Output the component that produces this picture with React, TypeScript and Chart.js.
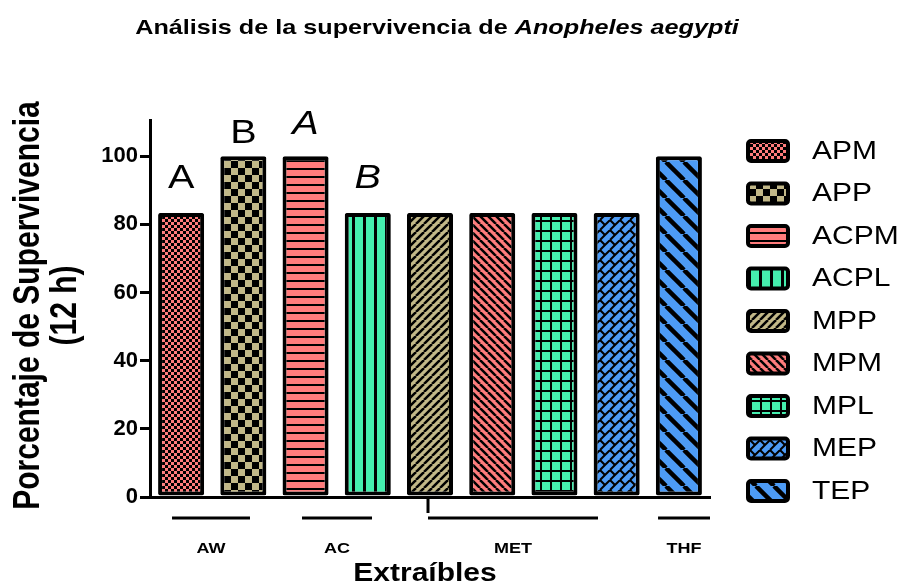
import React, { useEffect, useRef } from "react";
import { Chart, registerables } from "chart.js";

Chart.register(...registerables);

// ---------------- data ----------------
const categories = ["APM", "APP", "ACPM", "ACPL", "MPP", "MPM", "MPL", "MEP", "TEP"];
const survival = [83.33, 100, 100, 83.33, 83.33, 83.33, 83.33, 83.33, 100];
const yTicks = [0, 20, 40, 60, 80, 100];
const barColors = ["#FF7C7C", "#C2B888", "#FF7C7C", "#45EEAE", "#C2B888", "#FF7C7C", "#45EEAE", "#4D9BF5", "#4D9BF5"];
const barPatterns = ["checkSmall", "checkLarge", "hlines", "vlines", "diagUp", "diagDown", "grid", "brick", "wideDiag"];
const sigLetters = ["A", "B", "A", "B", "", "", "", "", ""];
const sigItalic = [false, false, true, true, false, false, false, false, false];
const groupNames = ["AW", "AC", "MET", "THF"];
const groupStart = [-0.146, 1.943, 3.968, 7.665];
const groupEnd = [1.107, 3.068, 6.7, 8.5];

const titleMain = "Análisis de la supervivencia de ";
const titleItalic = "Anopheles aegypti";
const yTitle = ["Porcentaje de Supervivencia", "(12 h)"];
const xTitle = "Extraíbles";

// ---------------- styling ----------------
const FAMILY = "'Liberation Sans', Arial, Helvetica, sans-serif";
const STRETCH = 1.2;
const letterGap = [25, 13, 22, 25, 25, 25, 25, 25, 25];

function drawDiag(g: CanvasRenderingContext2D, w: number, h: number, dir: number, lw: number) {
  g.lineWidth = lw;
  g.strokeStyle = "#000";
  for (const off of [-w, 0, w]) {
    g.beginPath();
    if (dir === 1) {
      g.moveTo(off, h);
      g.lineTo(off + w, 0);
    } else {
      g.moveTo(off, 0);
      g.lineTo(off + w, h);
    }
    g.stroke();
  }
}

function makePattern(kind: string, color: string): CanvasPattern {
  const sizes: Record<string, [number, number]> = {
    checkSmall: [6, 6],
    checkLarge: [14, 14],
    hlines: [8, 8],
    vlines: [11, 11],
    diagUp: [8, 8],
    diagDown: [8, 8],
    grid: [10, 10],
    brick: [10, 10],
    wideDiag: [18, 18],
  };
  const [w, h] = sizes[kind];
  const c = document.createElement("canvas");
  c.width = w;
  c.height = h;
  const g = c.getContext("2d") as CanvasRenderingContext2D;
  g.fillStyle = color;
  g.fillRect(0, 0, w, h);
  g.fillStyle = "#000";
  switch (kind) {
    case "checkSmall":
      g.fillRect(0, 0, 3, 3);
      g.fillRect(3, 3, 3, 3);
      break;
    case "checkLarge":
      g.fillRect(0, 0, 7, 7);
      g.fillRect(7, 7, 7, 7);
      break;
    case "hlines":
      g.fillRect(0, 0, w, 2);
      break;
    case "vlines":
      g.fillRect(0, 0, 3, h);
      break;
    case "grid":
      g.fillRect(0, 0, w, 2);
      g.fillRect(0, 0, 2, h);
      break;
    case "diagUp":
      drawDiag(g, w, h, 1, 2.5);
      break;
    case "diagDown":
      drawDiag(g, w, h, -1, 2.5);
      break;
    case "wideDiag":
      drawDiag(g, w, h, -1, 4.5);
      break;
    case "brick":
      drawDiag(g, w, h, 1, 2);
      g.lineWidth = 2;
      g.strokeStyle = "#000";
      for (const ox of [-w, 0, w]) {
        for (const oy of [-h, 0, h]) {
          g.beginPath();
          g.moveTo(ox, oy);
          g.lineTo(ox + w / 2, oy + h / 2);
          g.stroke();
        }
      }
      break;
  }
  return g.createPattern(c, "repeat") as CanvasPattern;
}

function stretchText(
  ctx: CanvasRenderingContext2D,
  text: string,
  x: number,
  y: number,
  font: string,
  align: CanvasTextAlign,
  baseline: CanvasTextBaseline = "alphabetic"
) {
  ctx.save();
  ctx.font = font;
  ctx.fillStyle = "#000";
  ctx.textAlign = align;
  ctx.textBaseline = baseline;
  ctx.translate(x, y);
  ctx.scale(STRETCH, 1);
  ctx.fillText(text, 0, 0);
  ctx.restore();
}

function makeAnnotationPlugin(patterns: CanvasPattern[]) {
  return {
    id: "annotations",
    afterDraw(chart: any) {
      const ctx: CanvasRenderingContext2D = chart.ctx;
      const xs = chart.scales.x;
      const ys = chart.scales.y;
      const area = chart.chartArea;

      // Title (bold + bold italic)
      const f1 = `bold 21px ${FAMILY}`;
      const f2 = `italic bold 21px ${FAMILY}`;
      ctx.save();
      ctx.font = f1;
      const w1 = ctx.measureText(titleMain).width;
      ctx.font = f2;
      const w2 = ctx.measureText(titleItalic).width;
      ctx.restore();
      const total = (w1 + w2) * STRETCH;
      const tx = 437 - total / 2;
      stretchText(ctx, titleMain, tx, 34, f1, "left");
      stretchText(ctx, titleItalic, tx + w1 * STRETCH, 34, f2, "left");

      // Y axis title (rotated, two lines)
      const yCenter = (area.top + area.bottom) / 2 - 3;
      const yFont = `bold 30px ${FAMILY}`;
      const lineX = [29, 66];
      yTitle.forEach((t, i) => {
        ctx.save();
        ctx.font = yFont;
        ctx.fillStyle = "#000";
        ctx.textAlign = "center";
        ctx.textBaseline = "middle";
        ctx.translate(lineX[i], yCenter);
        ctx.scale(STRETCH, 1);
        ctx.rotate(-Math.PI / 2);
        ctx.fillText(t, 0, 0);
        ctx.restore();
      });

      // Significance letters
      const meta = chart.getDatasetMeta(0);
      sigLetters.forEach((l, i) => {
        if (!l) return;
        const bar = meta.data[i];
        const font = `${sigItalic[i] ? "italic " : ""}33px ${FAMILY}`;
        stretchText(ctx, l, bar.x, ys.getPixelForValue(survival[i]) - letterGap[i], font, "center");
      });

      // Group lines and labels under the x axis
      ctx.save();
      ctx.strokeStyle = "#000";
      ctx.lineWidth = 3;
      const lineY = area.bottom + 21;
      groupNames.forEach((name, i) => {
        const x1 = xs.getPixelForValue(groupStart[i]);
        const x2 = xs.getPixelForValue(groupEnd[i]);
        ctx.beginPath();
        ctx.moveTo(x1, lineY);
        ctx.lineTo(x2, lineY);
        ctx.stroke();
        stretchText(ctx, name, (x1 + x2) / 2, area.bottom + 56, `bold 15px ${FAMILY}`, "center");
      });
      // small tick below axis at MET start
      const tickX = xs.getPixelForValue(groupStart[2]);
      ctx.beginPath();
      ctx.moveTo(tickX, area.bottom);
      ctx.lineTo(tickX, area.bottom + 16);
      ctx.stroke();
      ctx.restore();

      // X axis title
      stretchText(ctx, xTitle, (area.left + area.right) / 2 - 5, 581, `bold 25px ${FAMILY}`, "center");

      // Legend
      const lx = 748;
      categories.forEach((name, i) => {
        const cy = 151 + i * 42.5;
        ctx.save();
        ctx.beginPath();
        const rx = lx, ry = cy - 10, rw = 40, rh = 20, r = 3;
        ctx.moveTo(rx + r, ry);
        ctx.arcTo(rx + rw, ry, rx + rw, ry + rh, r);
        ctx.arcTo(rx + rw, ry + rh, rx, ry + rh, r);
        ctx.arcTo(rx, ry + rh, rx, ry, r);
        ctx.arcTo(rx, ry, rx + rw, ry, r);
        ctx.closePath();
        ctx.fillStyle = patterns[i];
        ctx.fill();
        ctx.lineWidth = 4;
        ctx.strokeStyle = "#000";
        ctx.lineJoin = "round";
        ctx.stroke();
        ctx.restore();
        stretchText(ctx, name, 812, cy + 1, `25px ${FAMILY}`, "left", "middle");
      });
    },
  };
}

export default function App() {
  const canvasRef = useRef<HTMLCanvasElement | null>(null);

  useEffect(() => {
    const canvas = canvasRef.current;
    if (!canvas) return;
    const patterns = barPatterns.map((k, i) => makePattern(k, barColors[i]));

    const chart = new Chart(canvas, {
      type: "bar",
      data: {
        labels: categories,
        datasets: [
          {
            data: survival,
            backgroundColor: patterns as any,
            borderColor: "#000",
            borderWidth: 4,
            borderSkipped: false,
            borderRadius: 2,
            barPercentage: 0.74,
            categoryPercentage: 1,
          },
        ],
      },
      options: {
        responsive: false,
        animation: false,
        devicePixelRatio: 1,
        layout: { padding: { top: 120, right: 191, left: 0, bottom: 0 } },
        plugins: {
          legend: { display: false },
          title: { display: false },
          tooltip: { enabled: false },
        },
        scales: {
          x: {
            type: "category",
            offset: true,
            grid: { display: false },
            border: { display: true, color: "#000", width: 3 },
            ticks: { display: false },
            afterFit: (s: any) => {
              s.height = 86;
            },
          },
          y: {
            min: 0,
            max: 110.6,
            grid: { drawOnChartArea: false, drawTicks: true, tickLength: 10, color: "#000", lineWidth: 3 },
            border: { display: true, color: "#000", width: 3 },
            ticks: {
              color: "#000",
              padding: 2,
              font: { family: FAMILY, weight: "bold", size: 22 },
            },
            afterBuildTicks: (s: any) => {
              s.ticks = yTicks.map((v) => ({ value: v }));
            },
            afterFit: (s: any) => {
              s.width = 150;
            },
          },
        },
      },
      plugins: [makeAnnotationPlugin(patterns)],
    } as any);

    return () => chart.destroy();
  }, []);

  return (
    <div style={{ position: "absolute", left: 0, top: 0, width: 901, height: 583, background: "#fff" }}>
      <canvas ref={canvasRef} width={901} height={583} style={{ width: 901, height: 583, display: "block" }} />
    </div>
  );
}
